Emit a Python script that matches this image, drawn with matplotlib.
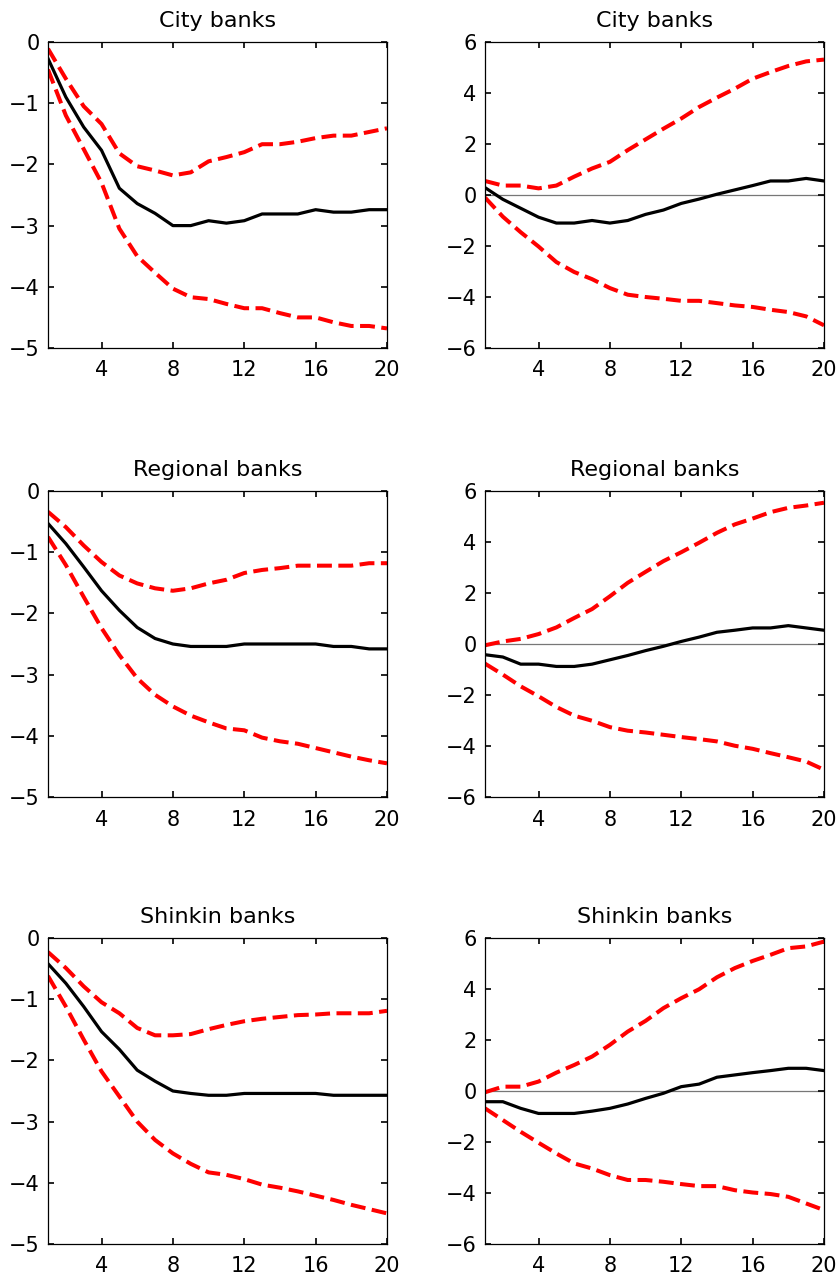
import numpy as np
import matplotlib
matplotlib.use("Agg")
import matplotlib.pyplot as plt

plt.rcParams['font.family'] = ['DejaVu Sans']

horizonte = list(range(1, 21))

# Coluna esquerda (escala 0 a -5)
city_l_med = [-0.27, -0.9, -1.39, -1.77, -2.39, -2.64, -2.80, -3.0, -3.0, -2.92,
              -2.96, -2.92, -2.81, -2.81, -2.81, -2.74, -2.78, -2.78, -2.74, -2.74]
city_l_sup = [-0.11, -0.6, -1.05, -1.34, -1.82, -2.03, -2.1, -2.18, -2.13, -1.95,
              -1.88, -1.8, -1.67, -1.67, -1.63, -1.57, -1.53, -1.53, -1.47, -1.41]
city_l_inf = [-0.45, -1.2, -1.75, -2.3, -3.05, -3.5, -3.77, -4.03, -4.17, -4.2,
              -4.28, -4.35, -4.35, -4.43, -4.5, -4.5, -4.58, -4.64, -4.64, -4.68]

reg_l_med = [-0.53, -0.86, -1.24, -1.63, -1.95, -2.23, -2.41, -2.5, -2.54, -2.54,
             -2.54, -2.5, -2.5, -2.5, -2.5, -2.5, -2.54, -2.54, -2.58, -2.58]
reg_l_sup = [-0.34, -0.59, -0.89, -1.16, -1.38, -1.51, -1.59, -1.63, -1.59, -1.51,
             -1.45, -1.34, -1.29, -1.26, -1.22, -1.22, -1.22, -1.22, -1.18, -1.18]
reg_l_inf = [-0.75, -1.21, -1.73, -2.24, -2.68, -3.06, -3.33, -3.52, -3.67, -3.78,
             -3.88, -3.91, -4.03, -4.09, -4.13, -4.2, -4.27, -4.34, -4.4, -4.45]

shin_l_med = [-0.42, -0.74, -1.12, -1.53, -1.82, -2.16, -2.34, -2.5, -2.54, -2.57,
              -2.57, -2.54, -2.54, -2.54, -2.54, -2.54, -2.57, -2.57, -2.57, -2.57]
shin_l_sup = [-0.23, -0.49, -0.79, -1.05, -1.23, -1.47, -1.59, -1.59, -1.57, -1.49,
              -1.42, -1.36, -1.32, -1.29, -1.26, -1.25, -1.23, -1.23, -1.23, -1.19]
shin_l_inf = [-0.62, -1.12, -1.66, -2.18, -2.59, -3.0, -3.3, -3.52, -3.69, -3.83,
              -3.87, -3.94, -4.03, -4.08, -4.14, -4.21, -4.28, -4.36, -4.43, -4.5]

# Coluna direita (escala -6 a 6)
city_r_med = [0.29, -0.17, -0.52, -0.87, -1.1, -1.1, -1.0, -1.1, -1.0, -0.76,
              -0.59, -0.33, -0.16, 0.03, 0.2, 0.37, 0.55, 0.55, 0.65, 0.55]
city_r_sup = [0.55, 0.37, 0.37, 0.26, 0.37, 0.72, 1.04, 1.3, 1.76, 2.18,
              2.6, 3.0, 3.45, 3.82, 4.17, 4.56, 4.82, 5.06, 5.24, 5.31]
city_r_inf = [-0.1, -0.85, -1.46, -2.02, -2.63, -3.02, -3.3, -3.65, -3.91, -4.0,
              -4.07, -4.15, -4.15, -4.24, -4.33, -4.39, -4.5, -4.59, -4.76, -5.11]

reg_r_med = [-0.42, -0.51, -0.79, -0.79, -0.88, -0.88, -0.79, -0.62, -0.45, -0.26,
             -0.09, 0.1, 0.27, 0.46, 0.54, 0.63, 0.63, 0.72, 0.63, 0.54]
reg_r_sup = [-0.05, 0.1, 0.2, 0.39, 0.65, 1.02, 1.37, 1.87, 2.4, 2.83,
             3.25, 3.6, 3.97, 4.36, 4.69, 4.92, 5.17, 5.34, 5.43, 5.54]
reg_r_inf = [-0.77, -1.2, -1.66, -2.05, -2.47, -2.81, -3.01, -3.26, -3.4, -3.47,
             -3.56, -3.65, -3.73, -3.82, -3.99, -4.11, -4.28, -4.44, -4.61, -4.93]

shin_r_med = [-0.42, -0.42, -0.68, -0.88, -0.88, -0.88, -0.79, -0.68, -0.51, -0.29,
              -0.09, 0.17, 0.27, 0.54, 0.63, 0.72, 0.8, 0.89, 0.89, 0.8]
shin_r_sup = [-0.05, 0.17, 0.17, 0.37, 0.72, 1.02, 1.35, 1.81, 2.33, 2.75,
              3.25, 3.64, 3.99, 4.46, 4.82, 5.1, 5.34, 5.6, 5.67, 5.86]
shin_r_inf = [-0.68, -1.14, -1.6, -2.03, -2.45, -2.84, -3.04, -3.3, -3.49, -3.49,
              -3.56, -3.65, -3.73, -3.73, -3.89, -3.98, -4.04, -4.15, -4.41, -4.67]

titulos = ['City banks', 'Regional banks', 'Shinkin banks']
xticks = [4, 8, 12, 16, 20]


def desenhar_painel(ax, med, sup, inf, titulo, escala):
    if escala == 'direita':
        ax.axhline(0, color='#777777', lw=0.9, zorder=1)
        ax.set_ylim(-6, 6)
        ax.set_yticks([-6, -4, -2, 0, 2, 4, 6])
    else:
        ax.set_ylim(-5, 0)
        ax.set_yticks([-5, -4, -3, -2, -1, 0])

    ax.plot(horizonte, sup, color='#ff0000', lw=2.9, linestyle='--', zorder=2)
    ax.plot(horizonte, inf, color='#ff0000', lw=2.9, linestyle='--', zorder=2)
    ax.plot(horizonte, med, color='black', lw=2.3, zorder=3)

    ax.set_xlim(1, 20)
    ax.set_xticks(xticks)
    ax.set_title(titulo, fontsize=16, pad=11)
    ax.tick_params(direction='in', top=True, right=True, length=4, width=1.2,
                   labelsize=15, pad=6)
    ax.tick_params(axis='x', pad=9)
    for sp in ax.spines.values():
        sp.set_linewidth(0.9)


fig = plt.figure(figsize=(8.4, 12.76), dpi=100)

lefts = [48 / 840, 485 / 840]
bottoms = [1 - 348 / 1276, 1 - 797 / 1276, 1 - 1244 / 1276]
w = 339 / 840
h = 306 / 1276

dados_esq = [(city_l_med, city_l_sup, city_l_inf),
             (reg_l_med, reg_l_sup, reg_l_inf),
             (shin_l_med, shin_l_sup, shin_l_inf)]
dados_dir = [(city_r_med, city_r_sup, city_r_inf),
             (reg_r_med, reg_r_sup, reg_r_inf),
             (shin_r_med, shin_r_sup, shin_r_inf)]

for i in range(3):
    ax = fig.add_axes([lefts[0], bottoms[i], w, h])
    desenhar_painel(ax, *dados_esq[i], titulos[i], 'esquerda')
    ax = fig.add_axes([lefts[1], bottoms[i], w, h])
    desenhar_painel(ax, *dados_dir[i], titulos[i], 'direita')

fig.savefig('out.png', dpi=100)
